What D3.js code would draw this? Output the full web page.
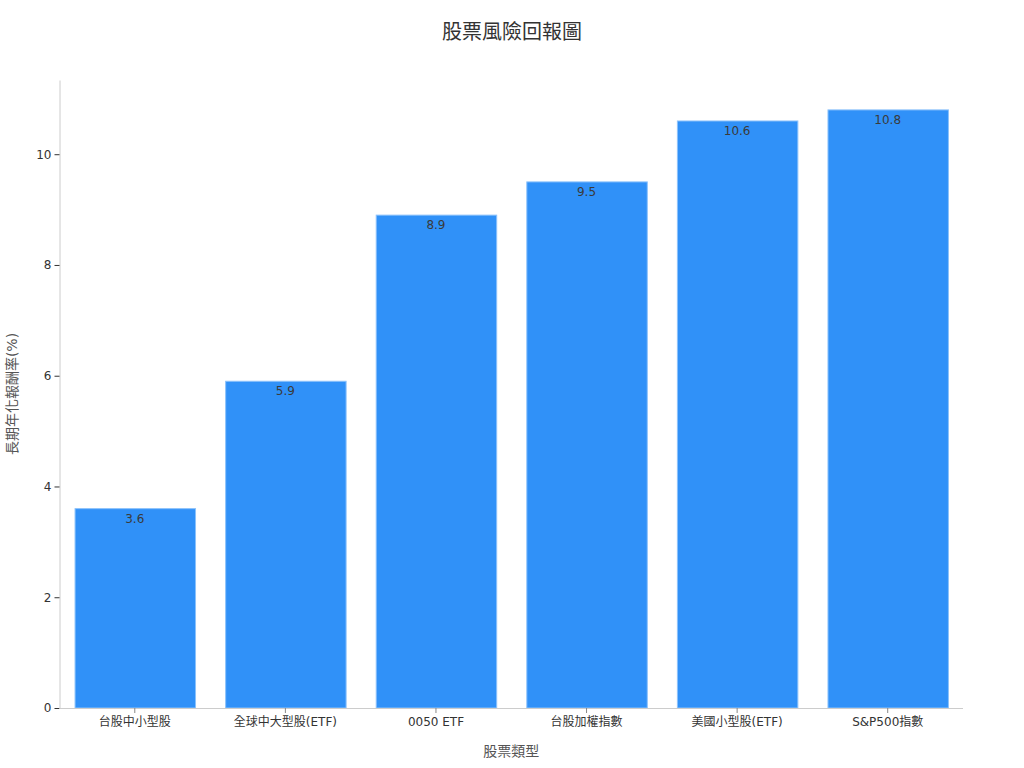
<!DOCTYPE html>
<html>
<head>
<meta charset="utf-8">
<script src="https://cdn.jsdelivr.net/npm/d3@7"></script>
<style>
  body { margin: 0; background: #fff; }
  svg { font-family: "DejaVu Sans", "Noto Sans CJK TC", sans-serif; }
</style>
</head>
<body>
<svg id="chart" width="1024" height="768"></svg>
<script>
// data
const categories = ["台股中小型股", "全球中大型股(ETF)", "0050 ETF", "台股加權指數", "美國小型股(ETF)", "S&P500指數"];
const returns = [3.6, 5.9, 8.9, 9.5, 10.6, 10.8];
const yTicks = [0, 2, 4, 6, 8, 10];

const BAR = "#3091f8";
const EDGE = "#8cc2fb";

const svg = d3.select("#chart");
const margin = {top: 80, right: 61, bottom: 60, left: 59.5};
const W = 1024, H = 768;

const x = d3.scaleBand()
    .domain(categories)
    .range([margin.left, W - margin.right])
    .paddingInner(0.2)
    .paddingOuter(0.1);

const y = d3.scaleLinear()
    .domain([0, d3.max(returns) * 1.05])
    .range([H - margin.bottom, margin.top]);

// title
svg.append("text")
    .attr("x", 512).attr("y", 39)
    .attr("text-anchor", "middle")
    .attr("font-size", 20)
    .attr("fill", "#333")
    .text("股票風險回報圖");

// bars
svg.append("g").selectAll("rect")
    .data(returns)
    .join("rect")
    .attr("x", (d, i) => x(categories[i]) + 0.5)
    .attr("y", d => y(d))
    .attr("width", x.bandwidth())
    .attr("height", d => y(0) - y(d))
    .attr("fill", BAR)
    .attr("stroke", EDGE)
    .attr("stroke-width", 1);

// value labels
svg.append("g").selectAll("text")
    .data(returns)
    .join("text")
    .attr("x", (d, i) => x(categories[i]) + x.bandwidth() / 2)
    .attr("y", d => y(d) + 14)
    .attr("text-anchor", "middle")
    .attr("font-size", 12)
    .attr("fill", "#3a3a3a")
    .text(d => d.toFixed(1));

// axes
const yAxis = svg.append("g")
    .attr("transform", `translate(${margin.left},0)`)
    .call(d3.axisLeft(y).tickValues(yTicks).tickSize(5).tickSizeOuter(0).tickPadding(3))
    .attr("font-family", null);
yAxis.select(".domain").attr("stroke", "#cccccc");
yAxis.selectAll(".tick line").attr("stroke", "#333");
yAxis.selectAll(".tick text").attr("font-size", 12).attr("fill", "#333");

const xAxis = svg.append("g")
    .attr("transform", `translate(0,${H - margin.bottom})`)
    .call(d3.axisBottom(x).tickSize(5).tickSizeOuter(0).tickPadding(4))
    .attr("font-family", null);
xAxis.select(".domain").attr("stroke", "#cccccc").attr("d", `M${margin.left},0.5H${W - margin.right}`);
xAxis.selectAll(".tick line").attr("stroke", "#888");
xAxis.selectAll(".tick text").attr("font-size", 12).attr("fill", "#333");

// axis titles
svg.append("text")
    .attr("x", (margin.left + W - margin.right) / 2)
    .attr("y", 756)
    .attr("text-anchor", "middle")
    .attr("font-size", 14)
    .attr("fill", "#555")
    .text("股票類型");

svg.append("text")
    .attr("transform", `translate(17,${(margin.top + H - margin.bottom) / 2}) rotate(-90)`)
    .attr("text-anchor", "middle")
    .attr("font-size", 14)
    .attr("fill", "#555")
    .text("長期年化報酬率(%)");
</script>
</body>
</html>
